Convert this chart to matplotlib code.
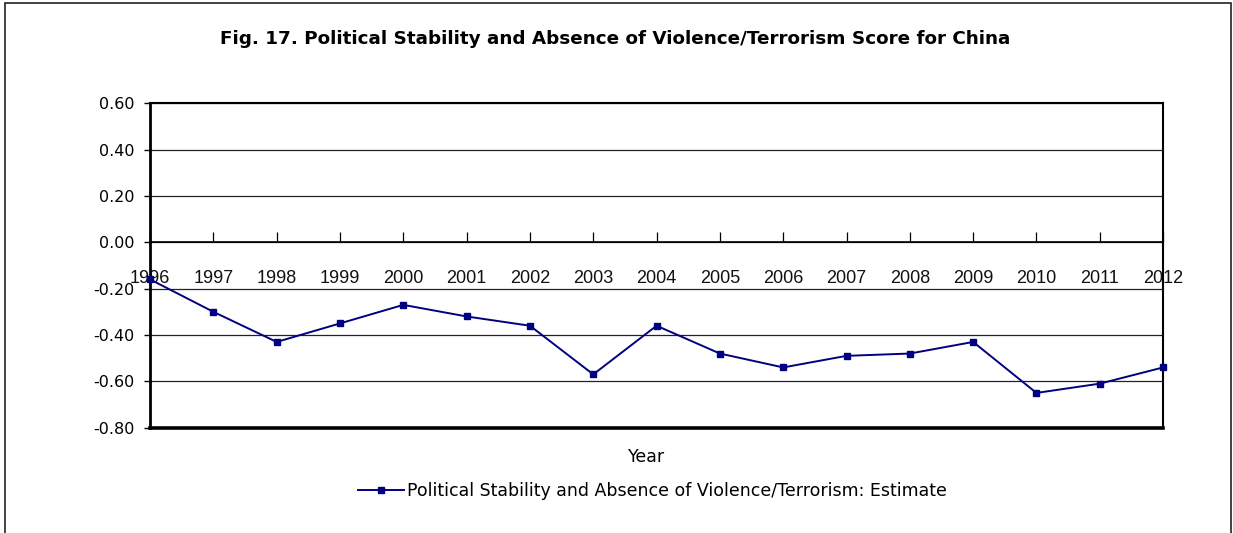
import matplotlib.pyplot as plt
from matplotlib.lines import Line2D
from matplotlib.patches import Rectangle

# World Bank governance indicator, China
years = ['1996', '1997', '1998', '1999', '2000', '2001', '2002', '2003', '2004',
         '2005', '2006', '2007', '2008', '2009', '2010', '2011', '2012']
estimate = [-0.16, -0.30, -0.43, -0.35, -0.27, -0.32, -0.36, -0.57, -0.36,
            -0.48, -0.54, -0.49, -0.48, -0.43, -0.65, -0.61, -0.54]
yticks = [0.60, 0.40, 0.20, 0.00, -0.20, -0.40, -0.60, -0.80]

title = 'Fig. 17. Political Stability and Absence of Violence/Terrorism Score for China'
series_name = 'Political Stability and Absence of Violence/Terrorism: Estimate'

plt.rcParams['font.family'] = ['DejaVu Sans']
navy = '#000080'

fig = plt.figure(figsize=(12.33, 5.33), dpi=100)
ax = fig.add_axes([0.1217, 0.1976, 0.8216, 0.6086])

x = list(range(len(years)))
ax.plot(x, estimate, color=navy, lw=1.4, marker='s', ms=5, mec=navy, mfc=navy,
        clip_on=False, zorder=5)

ax.set_xlim(0, len(years) - 1)
ax.set_ylim(min(yticks), max(yticks))
ax.set_yticks(yticks)
ax.set_yticklabels([f'{v:.2f}' for v in yticks], fontsize=11.5)
ax.tick_params(axis='y', direction='out', length=4, width=1, pad=7)
ax.grid(axis='y', color='#222222', lw=0.9)

# category axis crosses at zero, ticks point up, labels sit below it
ax.spines['bottom'].set_position(('data', 0))
ax.spines['bottom'].set_linewidth(1.2)
ax.set_xticks(x)
ax.set_xticklabels(years, family=['Liberation Sans', 'DejaVu Sans'], fontsize=13)
ax.tick_params(axis='x', direction='in', length=7, width=0.9, pad=20)
for lab in ax.get_xticklabels():
    lab.set_color('#111111')

ax.spines['left'].set_linewidth(2)
ax.spines['top'].set_linewidth(1.5)
ax.spines['right'].set_linewidth(1.5)
ax.axhline(min(yticks), color='black', lw=2.6, clip_on=False, zorder=4)
ax.set_axisbelow(True)

fig.text(0.4992, 0.927, title, ha='center', va='center', fontsize=13.2,
         fontweight='bold')
fig.text(0.5247, 0.143, 'Year', ha='center', va='center', fontsize=12.5)

handle = Line2D([], [], color=navy, lw=1.4, marker='s', ms=4, mec=navy, mfc=navy)
fig.legend([handle], [series_name], loc='center', bbox_to_anchor=(0.529, 0.079),
           frameon=False, fontsize=12.5, handlelength=2.7, handletextpad=0.15,
           borderpad=0, borderaxespad=0)

# outer chart frame, open at the bottom
fig.add_artist(Rectangle((0.004, -0.05), 0.994, 1.044, transform=fig.transFigure,
                         fill=False, ec='#222222', lw=1.2))

fig.savefig('out.png', dpi=100)
